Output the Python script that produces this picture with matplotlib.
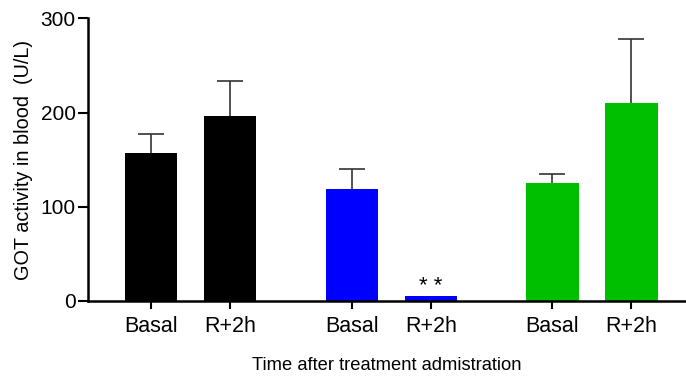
import matplotlib
matplotlib.use("Agg")
import matplotlib.pyplot as plt

plt.rcParams['font.family'] = ['Liberation Sans', 'DejaVu Sans']

labels = ["Basal", "R+2h", "Basal", "R+2h", "Basal", "R+2h"]
values = [157, 196, 119, 5, 125, 210]
errors = [20, 37, 21, 0, 10, 68]
colors = ["#000000", "#000000", "#0000FF", "#0000FF", "#00BF00", "#00BF00"]
positions = [0, 1, 2.54, 3.54, 5.08, 6.08]
yticks = [0, 100, 200, 300]

fig = plt.figure(figsize=(6.86, 3.76), dpi=100)
ax = fig.add_axes([88/686, 1-301/376, 1-88/686, (301-18.3)/376])

ax.bar(positions, values, width=0.66, color=colors, zorder=2)
for x, v, e in zip(positions, values, errors):
    if e > 0:
        _, caps, _ = ax.errorbar(x, v, yerr=[[0], [e]], fmt='none', ecolor='#333333',
                                 elinewidth=1.2, capsize=9.5, capthick=1.2, zorder=1)
        for c in caps:
            yd = c.get_ydata()
            if abs(yd[0] - v) < 1e-9:
                c.set_visible(False)

ax.text(positions[3], values[3] + 10, "* *", ha='center', va='center', fontsize=16)

ax.set_xlim(-0.8, 6.77)
ax.set_ylim(0, 300)
ax.set_yticks(yticks)
ax.set_xticks(positions)
ax.set_xticklabels(labels, fontsize=15.5)
ax.tick_params(axis='y', labelsize=15, width=1.5, length=7, pad=2)
ax.tick_params(axis='x', width=1.5, length=6, pad=5)
for s in ['top', 'right']:
    ax.spines[s].set_visible(False)
for s in ['left', 'bottom']:
    ax.spines[s].set_linewidth(1.8)

ax.set_ylabel("GOT activity in blood  (U/L)", fontsize=14.3, labelpad=5)
ax.set_xlabel("Time after treatment admistration", fontsize=13.2, labelpad=14)

fig.savefig("out.png", dpi=100)
